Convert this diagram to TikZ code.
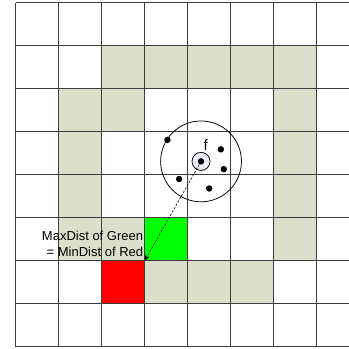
\documentclass[tikz,border=0pt]{standalone}
\usepackage{fontspec}
\setmainfont{Liberation Sans}
\usetikzlibrary{positioning,arrows.meta}
\definecolor{ringgray}{RGB}{220,223,204}
\definecolor{gridgray}{RGB}{60,60,60}
\definecolor{pointblue}{RGB}{230,236,248}

\begin{document}
\begin{tikzpicture}[
    gridline/.style={draw=gridgray, line width=0.65pt},
    pt/.style={circle, fill=black, inner sep=0pt, minimum size=0.15cm},
    label/.style={font=\fontsize{8.6}{10.6}\selectfont, inner sep=0pt},
  ]
  \useasboundingbox (-0.365,-0.03) rectangle (7.751,8.063);

  % ring of cells
  \foreach \x/\y in {2/6,3/6,4/6,5/6,6/6,1/5,2/5,6/5,1/4,6/4,1/3,6/3,1/2,2/2,6/2,3/1,4/1,5/1}
    \fill[ringgray] (\x,\y) rectangle ++(1,1);
  \fill[green] (3,2) rectangle ++(1,1);
  \fill[red] (2,1) rectangle ++(1,1);

  % grid
  \begin{scope}
    \clip (-0.2,-0.2) rectangle (7.751,8.2);
    \draw[gridline] (0,0) grid (8,8);
  \end{scope}

  % query range
  \node[circle, draw, line width=0.5pt, minimum size=1.88cm] (range) at (4.31,4.31) {};
  \node[circle, draw, line width=0.5pt, fill=pointblue, minimum size=0.42cm, inner sep=0pt] (f) at (range.center) {};
  \node[pt] (q) at (f.center) {};
  \node[label, font=\fontsize{10}{12}\selectfont] at (4.42,4.69) {f};

  \node[pt] (p1) at (3.53,4.81) {};
  \node[pt] (p2) at (4.77,4.59) {};
  \node[pt] (p3) at (4.84,4.13) {};
  \node[pt] (p4) at (3.80,3.90) {};
  \node[pt] (p5) at (4.50,3.68) {};

  \coordinate (corner) at (3,2);
  \draw[dashed, dash pattern=on 1.5pt off 1pt, line width=0.4pt, -{Stealth[length=4pt,width=3pt]}] (q) -- (corner);

  \node[label, align=right, anchor=east] (dist) at (2.97,2.40) {MaxDist of Green\\= MinDist of Red};
\end{tikzpicture}
\end{document}
